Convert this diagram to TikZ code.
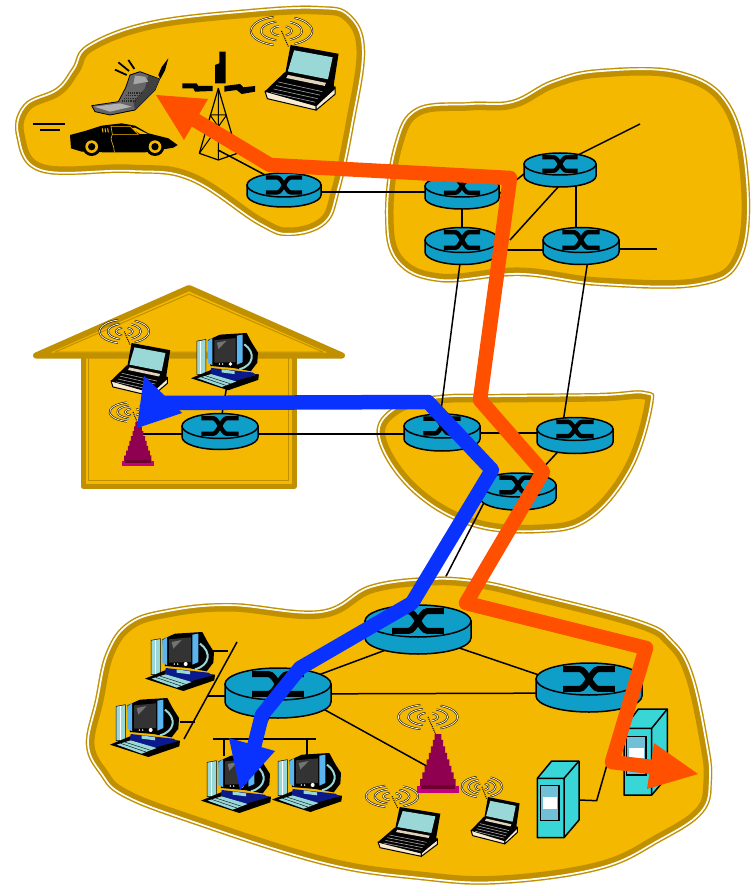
\documentclass[tikz,border=0pt]{standalone}
\usetikzlibrary{calc}
\definecolor{goldband}{HTML}{C09000}
\definecolor{goldfill}{HTML}{F4B800}
\definecolor{routerblue}{HTML}{0F9EC8}
\definecolor{flowred}{HTML}{FF5000}
\definecolor{flowblue}{HTML}{0A32FF}
\definecolor{servercyan}{HTML}{38D6D6}
\definecolor{panelblue}{HTML}{70C0D8}
\definecolor{screenteal}{HTML}{9AD8D8}
\definecolor{cream}{HTML}{F8EBCF}
\definecolor{navy}{HTML}{0A1A8C}
\definecolor{skyblue}{HTML}{5AB4F0}
\definecolor{towerred}{HTML}{6E0030}
\definecolor{towerpink}{HTML}{C00080}
\tikzset{
  link/.style={draw=black,line width=1.5pt},
  redflow/.style={draw=flowred,line width=14.5pt,line join=round,line cap=butt},
  blueflow/.style={draw=flowblue,line width=14.5pt,line join=round,line cap=butt}
}
\newcommand{\regionblob}[1]{%
  \begin{scope}
    \clip plot[smooth cycle,tension=.65] coordinates {#1};
    \fill[goldfill] plot[smooth cycle,tension=.65] coordinates {#1};
    \draw[goldband,line width=17pt] plot[smooth cycle,tension=.65] coordinates {#1};
    \draw[white,line width=6pt] plot[smooth cycle,tension=.65] coordinates {#1};
    \draw[goldband,line width=2.4pt] plot[smooth cycle,tension=.65] coordinates {#1};
  \end{scope}}
% name, cx, cy, rx, ry, height, bar width
\newcommand{\router}[7]{%
  \begin{scope}[shift={(#2,#3)}]
    \fill[routerblue,draw=black,line width=1.5pt,line join=round]
      (-#4,0) -- (-#4,#6) arc[start angle=180,end angle=0,x radius=#4,y radius=#5] -- (#4,0) -- cycle;
    \draw[fill=routerblue,line width=1.5pt] (0,0) circle[x radius=#4,y radius=#5];
    \draw[black,line width=#7pt] (-#4*.49,-#5*.62) -- (-#4*.18,-#5*.62)
      .. controls (-#4*.05,-#5*.62) and (#4*.05,#5*.62) .. (#4*.18,#5*.62) -- (#4*.49,#5*.62);
    \draw[black,line width=#7pt] (-#4*.49,#5*.62) -- (-#4*.18,#5*.62)
      .. controls (-#4*.05,#5*.62) and (#4*.05,-#5*.62) .. (#4*.18,-#5*.62) -- (#4*.49,-#5*.62);
  \end{scope}}
\newcommand{\rings}[1]{%
  \foreach \rr in {26,52,78}{
    \foreach \cc/\ww in {black/1.9,cream/.9}{
      \draw[\cc,line width=\ww pt] (0,0) ++(105:\rr*#1 and \rr*#1*.42) arc[start angle=105,end angle=255,x radius=\rr*#1,y radius=\rr*#1*.42];
      \draw[\cc,line width=\ww pt] (0,0) ++(-65:\rr*#1 and \rr*#1*.42) arc[start angle=-65,end angle=65,x radius=\rr*#1,y radius=\rr*#1*.42];
    }
  }}
% x y xscale yscale
\newcommand{\laptop}[4]{%
  \begin{scope}[shift={(#1,#2)},xscale=#3/3,yscale=#4/3]
    \begin{scope}[shift={(42,-32)}]\rings{1}\end{scope}
    \draw[black,line width=1pt,densely dotted] (42,-32) -- (60,5);
    \fill[cream,draw=black,line width=1pt,line join=round] (0,105) -- (130,138) -- (130,148) -- (6,122) -- cycle;
    \fill[cream,draw=black,line width=1pt,line join=round] (130,138) -- (178,95) -- (178,112) -- (130,148) -- cycle;
    \fill[black] (65,0) -- (187,20) -- (174,95) -- (50,72) -- cycle;
    \fill[screenteal] (74,12) -- (172,28) -- (160,78) -- (58,60) -- cycle;
    \fill[black] (50,62) -- (172,85) -- (178,100) -- (130,138) -- (0,105) -- cycle;
    \foreach \ii in {0,1,2,3}{
      \draw[gray!70,line width=.6pt] (34+\ii*-6,84+\ii*8) -- (146+\ii*-6,106+\ii*8);}
    \fill[cream!90!black] (58,68) -- (155,86) -- (152,93) -- (54,75) -- cycle;
  \end{scope}}
\newcommand{\desktop}[3]{%
  \begin{scope}[shift={(#1,#2)},scale=#3/3]
    \fill[screenteal,draw=black,line width=.5pt] (18,25) -- (46,20) -- (46,128) -- (18,128) -- cycle;
    \draw[white,line width=.6pt] (30,25) -- (30,128);
    \fill[black] (0,140) -- (60,115) -- (210,128) -- (208,145) -- (115,177) -- cycle;
    \fill[navy] (62,108) -- (190,122) -- (203,130) -- (130,150) -- (60,125) -- cycle;
    \fill[screenteal] (20,140) -- (62,127) -- (140,150) -- (95,167) -- cycle;
    \draw[black,line width=.4pt] (32,136) -- (108,162) (44,132) -- (122,157);
    \fill[screenteal] (95,112) -- (135,118) -- (135,127) -- (95,122) -- cycle;
    \fill[black] (52,22) -- (90,5) -- (172,0) -- (188,30) -- (207,60) -- (205,92) -- (185,118) -- (130,108) -- (60,102) -- cycle;
    \draw[screenteal,line width=2pt] (165,35) .. controls (200,60) and (195,100) .. (150,112);
    \fill[skyblue] (52,25) -- (66,15) -- (66,100) -- (52,92) -- cycle;
    \fill[skyblue] (142,8) -- (160,5) -- (160,90) -- (142,98) -- cycle;
    \fill[black!80] (72,22) -- (138,16) -- (138,90) -- (72,92) -- cycle;
    \fill[black!55] (80,30) -- (110,24) -- (85,50) -- cycle;
    \fill[white] (122,96) circle[radius=6];
    \fill[white] (88,96) circle[radius=2.5] (98,96) circle[radius=2.5];
  \end{scope}}
\newcommand{\stairtower}[4]{%
  \begin{scope}[shift={(#1,#2)},xscale=#3/100,yscale=#4/100]
    \shade[left color=towerpink!40!towerred,middle color=towerred,right color=towerpink!40!towerred]
      (42,0) -- (58,0) -- (58,10) -- (62,10) -- (62,21) -- (67,21) -- (67,32) -- (72,32) -- (72,43) -- (77,43) -- (77,54) -- (82,54) -- (82,65) -- (87,65) -- (87,76) -- (92,76) -- (92,89) -- (8,89) -- (8,76) -- (13,76) -- (13,65) -- (18,65) -- (18,54) -- (23,54) -- (23,43) -- (28,43) -- (28,32) -- (33,32) -- (33,21) -- (38,21) -- (38,10) -- (42,10) -- cycle;
    \fill[towerpink] (0,88) rectangle (100,100);
    \fill[towerred] (10,86) rectangle (90,94);
  \end{scope}}
\begin{document}
\begin{tikzpicture}[x=1pt,y=-1pt]
\useasboundingbox (0,0) rectangle (753,885);
\fill[white] (0,0) rectangle (753,885);
% router anchors
\coordinate (ra) at (284,185);
\coordinate (rb) at (462,186);
\coordinate (rc) at (560,164);
\coordinate (rd) at (462,240);
\coordinate (re) at (581,240);
\coordinate (rf) at (220,426);
\coordinate (rg) at (442,426);
\coordinate (rh) at (575,429);
\coordinate (ri) at (518,485);
\coordinate (rj) at (418,621);
\coordinate (rk) at (278,684);
\coordinate (rl) at (589,679);
\coordinate (freeC) at (640,124);
\coordinate (freeE) at (657,249);
\coordinate (celltower) at (218,150);
\coordinate (homepc) at (227,385);
\coordinate (hometower) at (140,434);
\coordinate (bigtower) at (432,769);
\coordinate (lanTop) at (237,642);
\coordinate (lanBot) at (184,739);
\coordinate (lanLeft) at (213,739);
\coordinate (lanRight) at (316,739);
% regions
\regionblob{(16,135)(24,104)(56,88)(72,68)(88,44)(150,21)(250,9)(318,6)(350,14)(365,50)(354,125)(340,190)(326,224)(290,236)(258,225)(190,181)(130,173)(40,172)}
\regionblob{(385,215)(394,145)(416,108)(470,102)(512,100)(552,80)(600,69)(680,71)(730,104)(749,180)(742,258)(700,286)(600,286)(520,276)(440,282)(396,262)}
\regionblob{(377,437)(395,406)(440,395)(500,394)(600,393)(645,391)(653,405)(632,470)(590,520)(540,533)(470,526)(410,490)}
\draw[link] ($(ri)+(-25,0)$) -- ($(rj)+(5,0)$);
\regionblob{(86,745)(95,700)(106,652)(128,622)(167,609)(230,603)(320,610)(370,585)(430,577)(480,580)(533,592)(640,620)(673,640)(693,673)(708,740)(712,780)(703,813)(660,842)(600,870)(500,884)(420,880)(323,865)(190,823)(123,797)(100,775)}
% house
\fill[goldfill,draw=goldband,line width=5pt,line join=round] (83,352) -- (83,486) -- (294,486) -- (294,352) -- cycle;
\draw[goldband,line width=1pt] (88,358) -- (88,480) -- (288,480) -- (288,358);
\fill[goldfill,draw=goldband,line width=6pt,line join=round] (36,355.5) -- (189,288) -- (342,355.5) -- cycle;
\draw[goldband,line width=1pt,line join=round] (55,352) -- (189,294) -- (323,352) -- cycle;
% connectors
\draw[link] (celltower) -- (ra);
\draw[link] ($(ra)+(0,7)$) -- ($(rb)+(0,6)$);
\draw[link] (rb) -- (rd);
\draw[link] ($(rb)+(37,8)$) -- ($(rc)+(-20,-3)$);
\draw[link] ($(rc)+(19,0)$) -- ($(rd)+(48,0)$);
\draw[link] ($(rc)+(16,0)$) -- ($(re)+(-5,0)$);
\draw[link] (rc) -- (freeC);
\draw[link] ($(rd)+(0,10)$) -- ($(re)+(0,10)$);
\draw[link] ($(re)+(0,9)$) -- (freeE);
\draw[link] ($(rd)+(1,0)$) -- ($(rg)+(-3,0)$);
\draw[link] ($(re)+(10,0)$) -- ($(rh)+(-13,0)$);
\draw[link] ($(rf)+(0,8)$) -- ($(rg)+(0,8)$);
\draw[link] ($(rg)+(0,7)$) -- ($(rh)+(0,4)$);
\draw[link] ($(rh)+(4,0)$) -- ($(ri)+(9,0)$);
\draw[link] ($(rj)+(0,17)$) -- ($(rk)+(0,6)$);
\draw[link] ($(rj)+(0,13)$) -- ($(rl)+(0,13)$);
\draw[link] ($(rk)+(0,10)$) -- ($(rl)+(0,14)$);
\draw[link] (rk) -- (bigtower);
\draw[link] (homepc) -- (rf);
\draw[link] ($(rf)+(0,8)$) -- (hometower);
\draw[link] (lanTop) -- (lanBot);
\draw[link] ($(rk)+(-40,12)$) -- (207,696);
\draw[link] (213,651) -- (228,651);
\draw[link] (180,722) -- (195,722);
\draw[link] ($(rk)+(-3,20)$) -- (259,739);
\draw[link] (lanLeft) -- (lanRight);
\draw[link] (224,739) -- (224,756);
\draw[link] (307,739) -- (307,756);
% routers
\router{ra}{284}{185}{37}{12}{10}{4.2}
\router{rb}{462}{186}{37}{11}{12}{4.2}
\router{rc}{560}{164}{36}{11}{12}{4.2}
\router{rd}{462}{240}{37}{12.5}{12}{4.4}
\router{re}{581}{240}{38}{12.5}{12}{4.4}
\router{rf}{220}{426}{38}{12.5}{11}{4.4}
\router{rg}{442}{426}{38}{12}{13}{4.4}
\router{rh}{575}{429}{38}{11.5}{13}{4.4}
\router{ri}{518}{485}{38}{12}{13}{4.4}
\router{rj}{418}{621}{53}{16}{17}{6}
\router{rk}{278}{684}{53}{16}{18}{6}
\router{rl}{589}{679}{53}{16}{17}{6}
% cell tower
\begin{scope}[shift={(10,0)},scale=1/3]
  \draw[black,line width=1.2pt,line join=round] (625,265) -- (568,460) -- (625,480) -- (682,460) -- cycle;
  \draw[black,line width=1pt] (600,345) -- (650,345) (585,400) -- (665,400) (568,460) -- (650,345) (682,460) -- (600,345) (625,265) -- (625,480);
  \fill[black] (628,155) -- (647,155) -- (647,250) -- (615,250) -- (615,195) -- (628,190) -- cycle;
  \fill[black] (517,250) -- (560,250) -- (565,258) -- (608,258) -- (608,273) -- (555,275) -- (550,265) -- (517,265) -- cycle;
  \fill[black] (643,258) -- (690,252) -- (700,262) -- (735,258) -- (735,275) -- (695,282) -- (680,270) -- (643,275) -- cycle;
  \draw[black,line width=1.2pt] (70,372) -- (165,372) (90,390) -- (150,390);
\end{scope}
% phone and car
\begin{scope}[shift={(85,55)},scale=1/3]
  \fill[black] (220,60) -- (230,36) -- (250,10) -- (240,46) -- (226,72) -- cycle;
  \draw[black,line width=1.8pt] (90,44) -- (125,60) (100,22) -- (132,48) (130,15) -- (148,42);
  \fill[black!60,draw=black,line width=.8pt,line join=round] (20,152) -- (100,140) -- (122,98) -- (135,60) -- (165,50) -- (224,72) -- (210,105) -- (150,165) -- (75,180) -- (30,170) -- cycle;
  \fill[black!75] (190,62) -- (224,72) -- (210,105) -- (150,165) -- (145,140) -- (180,100) -- cycle;
  \fill[black!35] (150,62) -- (180,65) -- (190,80) -- (145,88) -- cycle;
  \fill[black!30] (28,155) -- (105,145) -- (140,155) -- (75,170) -- cycle;
  \foreach \kk in {0,1,2,3}{\draw[black!85,line width=1.2pt,densely dotted] (110+\kk*6,138-\kk*8) -- (150+\kk*6,138-\kk*8);}
  \fill[black] (-45,240) -- (0,228) -- (50,212) -- (110,205) -- (150,212) -- (190,235) -- (250,250) -- (278,270) -- (265,278) -- (235,283) -- (180,292) -- (60,292) -- (-10,290) -- (-42,280) -- cycle;
  \fill[goldfill] (140,219) -- (150,218) -- (188,237) -- (165,237) -- cycle;
  \draw[goldfill,line width=.6pt] (78,214) -- (135,214) -- (160,238) -- (82,238) -- cycle;
  \draw[goldfill,line width=.6pt] (82,238) .. controls (70,255) and (90,270) .. (88,292);
  \foreach \mm in {52,60,68}{\draw[goldfill,line width=1pt] (\mm,220) -- (\mm+2,232);}
  \foreach \wx in {20,210}{
    \fill[black] (\wx,275) circle[radius=28];
    \fill[goldfill] (\wx,275) circle[radius=19];
    \fill[black] (\wx,275) circle[radius=11];
  }
\end{scope}
\laptop{265}{45}{1.18}{1.32}
\laptop{111}{343}{.95}{1.08}
\laptop{378}{807}{1}{1}
\laptop{471}{797}{.78}{.95}
% stepped towers
\begin{scope}[shift={(133,412)}]\rings{.3}\end{scope}
\draw[black,line width=1pt,densely dotted] (133,412) -- (138,424);
\stairtower{122}{422}{32}{44}
\begin{scope}[shift={(428,717)}]\rings{.38}\end{scope}
\draw[black,line width=1pt,densely dotted] (428,717) -- (436,735);
\stairtower{417}{734}{42}{59}
% desktops
\desktop{145}{632}{1}
\desktop{110}{698}{1}
\desktop{201}{754}{1}
\desktop{272}{753}{1}
\desktop{191}{333}{.97}
% servers
\begin{scope}[shift={(360,640)},scale=1/3]
  \draw[black,line width=1.5pt] (655,480) -- (710,482) -- (745,360);
  \fill[servercyan,draw=black,line width=1.5pt,line join=round] (532,415) -- (575,363) -- (657,363) -- (657,540) -- (612,593) -- (532,593) -- cycle;
  \draw[black,line width=1.5pt,line join=round] (532,415) -- (612,415) -- (612,593) (612,415) -- (657,363);
  \fill[panelblue,draw=black,line width=1.4pt] (542,437) rectangle (597,542);
  \fill[white] (548,470) rectangle (590,507);
  \fill[servercyan,draw=black,line width=1.5pt,line join=round] (792,265) -- (835,207) -- (922,207) -- (922,410) -- (875,465) -- (792,465) -- cycle;
  \draw[black,line width=1.5pt,line join=round] (792,265) -- (875,265) -- (875,465) (875,265) -- (922,207);
  \fill[panelblue,draw=black,line width=1.4pt] (800,290) rectangle (858,405);
  \fill[white] (808,325) rectangle (853,355);
\end{scope}
% traffic flows
\coordinate (bs) at (160,403);
\coordinate (b1) at (428,402);
\coordinate (b2) at (492,470);
\coordinate (b3) at (412,603);
\coordinate (b4) at (300,668);
\coordinate (b5) at (262,715);
\coordinate (b6) at (252,755);
\draw[blueflow] (bs) -- (b1) -- (b2) -- (b3) -- (b4) -- (b5) -- (b6);
\fill[flowblue] (137,428) -- (144,376) -- (166,397) -- (182,413) -- cycle;
\fill[flowblue] (229,738) -- (275,751) -- (240,790) -- cycle;
\coordinate (o0) at (195,120);
\coordinate (o1) at (270,165);
\coordinate (o2) at (510,178);
\coordinate (o3) at (480,400);
\coordinate (o4) at (543,472);
\coordinate (o5) at (466,603);
\coordinate (o6) at (646,648);
\coordinate (o7) at (612,762);
\coordinate (o8) at (660,768);
\draw[redflow] (o0) -- (o1) -- (o2) -- (o3) -- (o4) -- (o5) -- (o6) -- (o7) -- (o8);
\fill[flowred] (156,95) -- (208,99) -- (184,140) -- cycle;
\fill[flowred] (698,774) -- (654,743) -- (647,789) -- cycle;
\end{tikzpicture}
\end{document}
